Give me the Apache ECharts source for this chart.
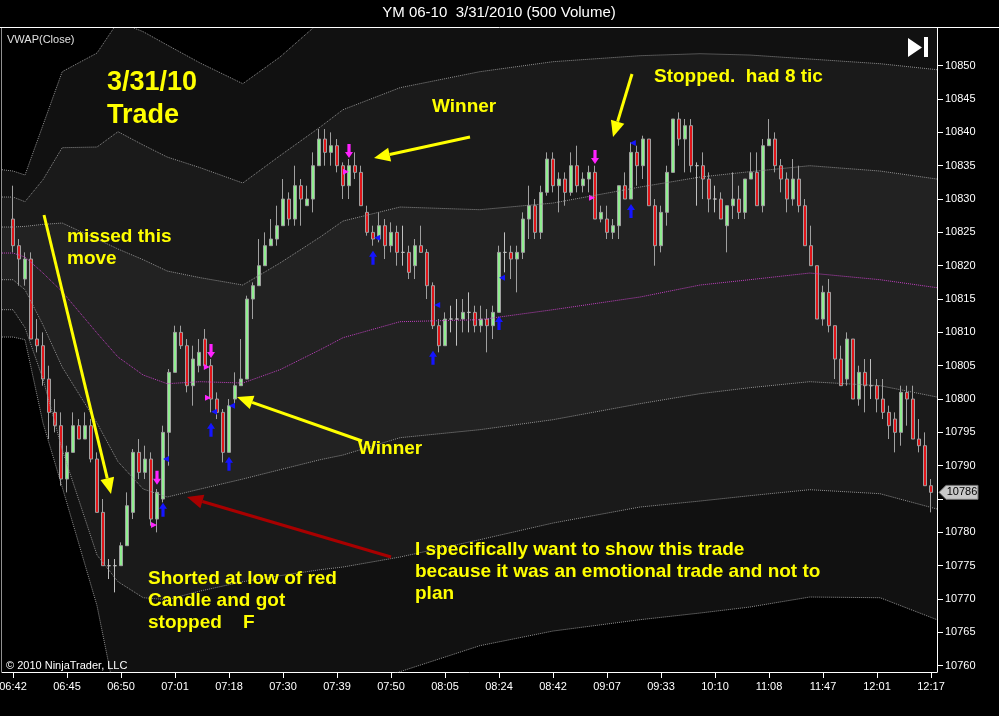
<!DOCTYPE html>
<html>
<head>
<meta charset="utf-8">
<title>YM 06-10 3/31/2010 (500 Volume)</title>
<script src="https://cdn.jsdelivr.net/npm/echarts@6.0.0/dist/echarts.min.js"></script>
<style>
    html, body { margin: 0; padding: 0; background: #000; }
    #my_echart { width: 999px; height: 716px; }
</style>
</head>
<body>
<div id="my_echart"></div>
<script>
// x axis time labels, one every 9 bars
var timeLabels = ['06:42', '06:45', '06:50', '07:01', '07:18', '07:30', '07:39', '07:50', '08:05',
    '08:24', '08:42', '09:07', '09:33', '10:10', '11:08', '11:47', '12:01', '12:17'];
var yTicks = [10760, 10765, 10770, 10775, 10780, 10785, 10790, 10795, 10800, 10805,
    10810, 10815, 10820, 10825, 10830, 10835, 10840, 10845, 10850];

// 500 volume bars
var opens = [10827, 10823, 10818, 10821, 10809, 10808, 10803, 10798, 10796, 10788,
    10792, 10796, 10794, 10796, 10791, 10783, 10775, 10775, 10775, 10778,
    10783, 10792, 10789, 10791, 10782, 10785, 10795, 10804, 10810, 10808,
    10802, 10805, 10809, 10805, 10800, 10798, 10792, 10800, 10802, 10803,
    10815, 10817, 10820, 10823, 10824, 10826, 10830, 10827, 10832, 10829,
    10830, 10835, 10839, 10837, 10838, 10835, 10832, 10835, 10834, 10828,
    10825, 10824, 10826, 10823, 10825, 10822, 10822, 10820, 10823, 10822,
    10817, 10811, 10808, 10812, 10812, 10812, 10813, 10813, 10811, 10812,
    10811, 10813, 10822, 10822, 10821, 10822, 10827, 10829, 10825, 10831,
    10836, 10832, 10833, 10831, 10835, 10832, 10833, 10834, 10827, 10827,
    10825, 10826, 10832, 10830, 10837, 10835, 10839, 10829, 10823, 10828,
    10834, 10842, 10839, 10841, 10835, 10835, 10833, 10830, 10830, 10826,
    10829, 10830, 10828, 10833, 10834, 10829, 10838, 10839, 10835, 10833,
    10830, 10833, 10829, 10823, 10820, 10812, 10816, 10811, 10806, 10803,
    10809, 10800, 10804, 10802, 10802, 10800, 10798, 10797, 10795, 10801,
    10800, 10794, 10793, 10787];
var closes = [10823, 10821, 10821, 10809, 10808, 10803, 10798, 10796, 10788, 10792,
    10796, 10794, 10796, 10791, 10783, 10775, 10775, 10775, 10778, 10784,
    10792, 10789, 10791, 10782, 10786, 10795, 10804, 10810, 10808, 10802,
    10806, 10807, 10805, 10800, 10798, 10792, 10799, 10802, 10803, 10815,
    10817, 10820, 10823, 10824, 10826, 10830, 10827, 10832, 10830, 10830,
    10835, 10839, 10837, 10838, 10835, 10832, 10835, 10834, 10829, 10825,
    10824, 10826, 10823, 10825, 10822, 10822, 10819, 10823, 10822, 10817,
    10811, 10808, 10812, 10812, 10812, 10813, 10813, 10811, 10812, 10811,
    10813, 10822, 10822, 10821, 10822, 10827, 10829, 10825, 10831, 10836,
    10832, 10833, 10831, 10835, 10832, 10833, 10834, 10827, 10828, 10825,
    10826, 10832, 10830, 10837, 10835, 10839, 10829, 10823, 10828, 10834,
    10842, 10839, 10841, 10835, 10835, 10833, 10830, 10830, 10827, 10829,
    10830, 10828, 10833, 10834, 10829, 10838, 10839, 10835, 10833, 10830,
    10833, 10829, 10823, 10820, 10812, 10816, 10811, 10806, 10802, 10809,
    10800, 10804, 10802, 10802, 10800, 10798, 10796, 10795, 10801, 10800,
    10794, 10793, 10787, 10786];
var lows = [10822, 10817, 10817, 10809, 10807, 10802, 10794, 10795, 10787, 10786,
    10792, 10794, 10794, 10790.5, 10783, 10775, 10773, 10771, 10775, 10778,
    10782, 10788, 10788, 10781, 10780, 10784.5, 10790, 10804, 10807.5, 10801,
    10799, 10804, 10804.5, 10798, 10797, 10790.5, 10792, 10799, 10802, 10803,
    10812, 10817, 10820, 10823, 10823, 10826, 10826, 10826, 10826, 10829,
    10828, 10835, 10835, 10835, 10834, 10830, 10830, 10833, 10829, 10824.5,
    10823, 10823.5, 10821, 10822, 10820, 10820, 10818, 10818, 10822, 10815,
    10810.5, 10807, 10808, 10810, 10808, 10810, 10810, 10810, 10810, 10807,
    10809, 10813, 10819, 10818, 10816, 10821, 10824, 10824, 10824, 10830.5,
    10831, 10828, 10829, 10830.5, 10831, 10831, 10831, 10827, 10826.5, 10824,
    10824, 10824, 10830, 10830, 10832, 10833, 10829, 10820, 10822, 10826,
    10834, 10838, 10834, 10834, 10829, 10830, 10828, 10828, 10827, 10822,
    10827, 10827, 10827, 10833, 10829, 10828, 10838, 10834, 10831, 10828,
    10829, 10828, 10823, 10820, 10812, 10811, 10810, 10803, 10802, 10802,
    10800, 10799, 10798, 10800, 10798, 10797, 10794, 10792, 10793, 10796,
    10794, 10792, 10787, 10783];
var highs = [10832, 10824, 10822, 10822, 10812, 10810, 10805, 10800, 10798, 10793,
    10798, 10797, 10798, 10797, 10792, 10785, 10776, 10776, 10778.5, 10786,
    10792.5, 10794, 10793, 10792, 10786.5, 10796, 10804.5, 10811, 10811, 10809,
    10808, 10809, 10810.5, 10806, 10801, 10798.5, 10800, 10804, 10809, 10815.5,
    10817.5, 10824, 10825, 10827, 10829, 10833, 10831, 10835, 10833, 10832,
    10837, 10840.5, 10840.5, 10840, 10839, 10835.5, 10836, 10837, 10835, 10829,
    10826, 10828, 10827, 10826.5, 10826, 10826, 10823, 10824, 10826, 10822.5,
    10817.5, 10812, 10813, 10814, 10815, 10815, 10816, 10814, 10814, 10813.5,
    10814, 10823, 10825, 10823, 10823, 10828, 10832, 10830, 10832, 10837,
    10837, 10834, 10834, 10837, 10838, 10834, 10835, 10835, 10829, 10829,
    10827, 10832, 10834, 10838.5, 10838, 10839.5, 10839, 10830, 10829, 10835,
    10842, 10843, 10842, 10842, 10835.5, 10837, 10834, 10832, 10831, 10829,
    10834, 10832, 10833, 10837, 10837, 10839, 10842, 10840, 10836, 10834,
    10836, 10835, 10830, 10826, 10820, 10817, 10818, 10811, 10808, 10810,
    10809, 10805, 10806, 10806, 10803, 10803, 10799, 10798, 10802, 10802,
    10802, 10797, 10795, 10788];

// VWAP and deviation bands, read at these bar positions
var bandX = [-1.83, 0, 2, 5, 8.2, 14, 17.5, 21.7, 25.7, 31.2, 38.3, 44.5, 51.2, 55,
    64.5, 77.8, 90, 104.5, 114.5, 122.8, 132.8, 144.5, 154];
var up3 = [10834.4, 10834.2, 10833.6, 10841.1, 10849.1, 10851.9, 10856.6, 10855.1, 10853.1, 10850.4,
    10847.3, 10851.3, 10856.6, 10859.1, 10862.9, 10865.1, 10866.6, 10867.4, 10867.4, 10867.4,
    10866.6, 10865.9, 10865.1];
var up2 = [10830.3, 10830.3, 10829.6, 10832.9, 10837.7, 10837.8, 10840.1, 10838.1, 10836.3, 10834.7,
    10832.4, 10836.5, 10840.8, 10843.4, 10846.7, 10849.1, 10850.6, 10851.5, 10851.8, 10851.6,
    10851.0, 10850.3, 10849.4];
var up1 = [10825.8, 10825.8, 10825.9, 10826.2, 10826.4, 10824.0, 10822.5, 10820.9, 10819.2, 10818.2,
    10817.1, 10820.4, 10824.3, 10826.7, 10828.8, 10828.4, 10829.4, 10831.8, 10833.3, 10834.1,
    10835.0, 10834.2, 10833.0];
var vwap = [10821.9, 10821.9, 10821.3, 10818.9, 10816.1, 10809.9, 10806.3, 10803.6, 10802.3, 10802.6,
    10802.4, 10804.4, 10807.4, 10809.2, 10811.6, 10811.9, 10813.4, 10815.3, 10817.1, 10817.9,
    10818.9, 10817.9, 10816.7];
var dn1 = [10817.9, 10817.9, 10816.4, 10811.1, 10804.8, 10796.4, 10790.6, 10786.5, 10785.3, 10786.5,
    10788.0, 10789.4, 10790.9, 10791.6, 10794.2, 10795.4, 10796.9, 10799.3, 10800.8, 10801.7,
    10802.6, 10802.0, 10800.3];
var dn2 = [10813.4, 10813.4, 10810.7, 10803.0, 10792.4, 10776.6, 10772.6, 10770.2, 10769.9, 10771.2,
    10772.6, 10773.5, 10774.4, 10774.8, 10776.3, 10778.9, 10781.4, 10783.8, 10784.7, 10785.5,
    10786.4, 10785.8, 10783.5];
var dn3 = [10809.3, 10809.3, 10808.9, 10796.4, 10786.8, 10769.0, 10753.4, 10748.9, 10747.4, 10748.2,
    10750.4, 10752.7, 10755.7, 10756.7, 10759.1, 10763.0, 10765.2, 10766.9, 10767.9, 10768.8,
    10770.3, 10770.2, 10766.9];

// trade markers [bar, price]
var sellArrows = [[24, 10788.2], [33, 10807.2], [56, 10837.2], [97, 10836.3]];
var buyArrows = [[25, 10783.4], [33, 10795.4], [36, 10790.3], [60, 10821.2], [70, 10806.2], [81, 10811.4], [103, 10828.2]];
var sellFills = [[23.5, 10781.1], [32.5, 10800.2], [32.3, 10804.8], [55.5, 10834.1], [96.5, 10830.2]];
var buyFills = [[25.5, 10791.0], [33.5, 10798.1], [36.5, 10799.0], [60.7, 10824.2], [70.7, 10814.1], [81.5, 10818.2], [103.3, 10838.4]];

var FONT = '"Liberation Sans", Arial, sans-serif';
var mychart = echarts.init(document.getElementById('my_echart'));

var lastClose = closes[closes.length - 1];
var candleData = opens.map(function (o, i) {
    return [i, o, closes[i], lows[i], highs[i]];
});
var xTickVals = timeLabels.map(function (t, k) { return k * 9; });
//最后价格标签会盖住附近的刻度文字
var yLabelVals = yTicks.filter(function (v) { return Math.abs(v - lastClose) > 3; });

function pairs(arr) {
    return bandX.map(function (x, i) { return [x, arr[i]]; });
}

//两条带之间填色
function bandFill(upper, lower, color) {
    return {
        type: 'custom',
        silent: true,
        clip: true,
        data: [[0, 10800]],
        renderItem: function (params, api) {
            var pts = [];
            for (var i = 0; i < bandX.length; i++) pts.push(api.coord([bandX[i], upper[i]]));
            for (var j = bandX.length - 1; j >= 0; j--) pts.push(api.coord([bandX[j], lower[j]]));
            return { type: 'polygon', shape: { points: pts }, style: { fill: color } };
        }
    };
}

function bandLine(arr, color) {
    return {
        type: 'line',
        silent: true,
        showSymbol: false,
        data: pairs(arr),
        lineStyle: { color: color, width: 1, type: [1, 1] }
    };
}

function markers(data, symbol, size, rotate, color) {
    return {
        type: 'scatter',
        silent: true,
        data: data,
        symbol: symbol,
        symbolSize: size,
        symbolRotate: rotate,
        itemStyle: { color: color, opacity: 1 }
    };
}

var upArrow = 'path://M5,0 L10,6 L7,6 L7,14 L3,14 L3,6 L0,6 Z';
var downArrow = 'path://M3,0 L7,0 L7,8 L10,8 L5,14 L0,8 L3,8 Z';

mychart.setOption({
    animation: false,
    backgroundColor: '#000',
    textStyle: { fontFamily: FONT },
    grid: { left: 2, right: 62, top: 28, bottom: 44, outerBoundsMode: 'none' },
    xAxis: {
        type: 'value',
        min: -1.8333,
        max: 154,
        axisLine: { show: true, onZero: false, lineStyle: { color: '#fff', width: 1 } },
        axisTick: { show: true, length: 6, lineStyle: { color: '#fff' }, customValues: xTickVals },
        axisLabel: {
            color: '#fff', fontSize: 11, margin: 9,
            customValues: xTickVals,
            formatter: function (v) { return timeLabels[Math.round(v / 9)]; }
        },
        splitLine: { show: false }
    },
    yAxis: {
        type: 'value',
        position: 'right',
        min: 10759.055,
        max: 10855.655,
        axisLine: { show: true, onZero: false, lineStyle: { color: '#fff', width: 1 } },
        axisTick: { show: true, length: 6, lineStyle: { color: '#fff' }, customValues: yTicks },
        axisLabel: {
            color: '#fff', fontSize: 11, margin: 8, customValues: yLabelVals,
            formatter: function (v) { return String(v); }
        },
        splitLine: { show: false }
    },
    series: [
        bandFill(up3, dn3, '#111111'),
        bandFill(up2, dn2, '#1a1a1a'),
        bandFill(up1, dn1, '#222222'),
        bandLine(up3, '#909090'),
        bandLine(up2, '#909090'),
        bandLine(up1, '#909090'),
        bandLine(dn1, '#909090'),
        bandLine(dn2, '#909090'),
        bandLine(dn3, '#909090'),
        bandLine(vwap, '#c040c0'),
        {
            type: 'candlestick',
            silent: true,
            barWidth: 4,
            data: candleData,
            itemStyle: {
                color: '#90ee90',
                color0: '#e0161a',
                borderColor: '#a0a0a0',
                borderColor0: '#a0a0a0',
                borderColorDoji: '#c0c0c0',
                borderWidth: 1
            }
        },
        markers(sellArrows, downArrow, [8, 14], 0, '#ff22ff'),
        markers(buyArrows, upArrow, [8, 14], 0, '#1515ff'),
        markers(sellFills, 'triangle', 6, -90, '#ff22ff'),
        markers(buyFills, 'triangle', 6, 90, '#1515ff')
    ]
});

//注释箭头
function arrow(x1, y1, x2, y2, color) {
    var dx = x2 - x1, dy = y2 - y1, len = Math.sqrt(dx * dx + dy * dy);
    var ux = dx / len, uy = dy / len, hl = 16, hw = 7;
    var bx = x2 - ux * hl, by = y2 - uy * hl;
    return [
        { type: 'line', z: 100, shape: { x1: x1, y1: y1, x2: bx, y2: by }, style: { stroke: color, lineWidth: 3 } },
        { type: 'polygon', z: 100, shape: { points: [[x2, y2], [bx - uy * hw, by + ux * hw], [bx + uy * hw, by - ux * hw]] }, style: { fill: color } }
    ];
}

function label(text, x, y, size, bold, color, align) {
    return {
        type: 'text', z: 100,
        style: {
            text: text, x: x, y: y, fill: color,
            font: (bold ? 'bold ' : '') + size + 'px ' + FONT,
            textAlign: align || 'left', textVerticalAlign: 'middle'
        }
    };
}

var Y = '#ffff00';
var tagY = mychart.convertToPixel({ yAxisIndex: 0 }, lastClose);

var elements = [
    { type: 'line', z: 100, shape: { x1: 0, y1: 27.5, x2: 999, y2: 27.5 }, style: { stroke: '#fff', lineWidth: 1 } },
    { type: 'line', z: 100, shape: { x1: 1.5, y1: 28, x2: 1.5, y2: 672 }, style: { stroke: '#909090', lineWidth: 1 } },
    label('YM 06-10  3/31/2010 (500 Volume)', 499, 13, 15, false, '#fff', 'center'),
    label('VWAP(Close)', 7, 40, 11, false, '#e0e0e0'),
    label('\u00a9 2010 NinjaTrader, LLC', 6, 666, 11, false, '#fff'),
    { type: 'polygon', z: 100, shape: { points: [[908, 38], [922, 47.5], [908, 57]] }, style: { fill: '#fff' } },
    { type: 'rect', z: 100, shape: { x: 924, y: 37, width: 4, height: 20 }, style: { fill: '#fff' } },
    { type: 'polygon', z: 100, shape: { points: [[939, tagY], [946, tagY - 7], [978, tagY - 7], [978, tagY + 7], [946, tagY + 7]] },
        style: { fill: '#c8c8c8', stroke: '#707070', lineWidth: 1 } },
    label(String(lastClose), 962, tagY, 11, false, '#000', 'center'),
    label('3/31/10', 107, 83, 27, true, Y),
    label('Trade', 107, 116, 27, true, Y),
    label('missed this', 67, 237, 19, true, Y),
    label('move', 67, 259, 19, true, Y),
    label('Winner', 432, 107, 19, true, Y),
    label('Stopped.  had 8 tic', 654, 77, 19, true, Y),
    label('Winner', 358, 449, 19, true, Y),
    label('I specifically want to show this trade', 415, 550, 19, true, Y),
    label('because it was an emotional trade and not to', 415, 572, 19, true, Y),
    label('plan', 415, 594, 19, true, Y),
    label('Shorted at low of red', 148, 579, 19, true, Y),
    label('Candle and got', 148, 601, 19, true, Y),
    label('stopped    F', 148, 623, 19, true, Y)
];
elements = elements
    .concat(arrow(44, 215, 111, 494, Y))
    .concat(arrow(470, 137, 374, 158, Y))
    .concat(arrow(632, 74, 613, 137, Y))
    .concat(arrow(362, 441, 237, 397, Y))
    .concat(arrow(391, 557, 187, 497, '#a80000'));

mychart.setOption({ graphic: { elements: elements } });
</script>
</body>
</html>
